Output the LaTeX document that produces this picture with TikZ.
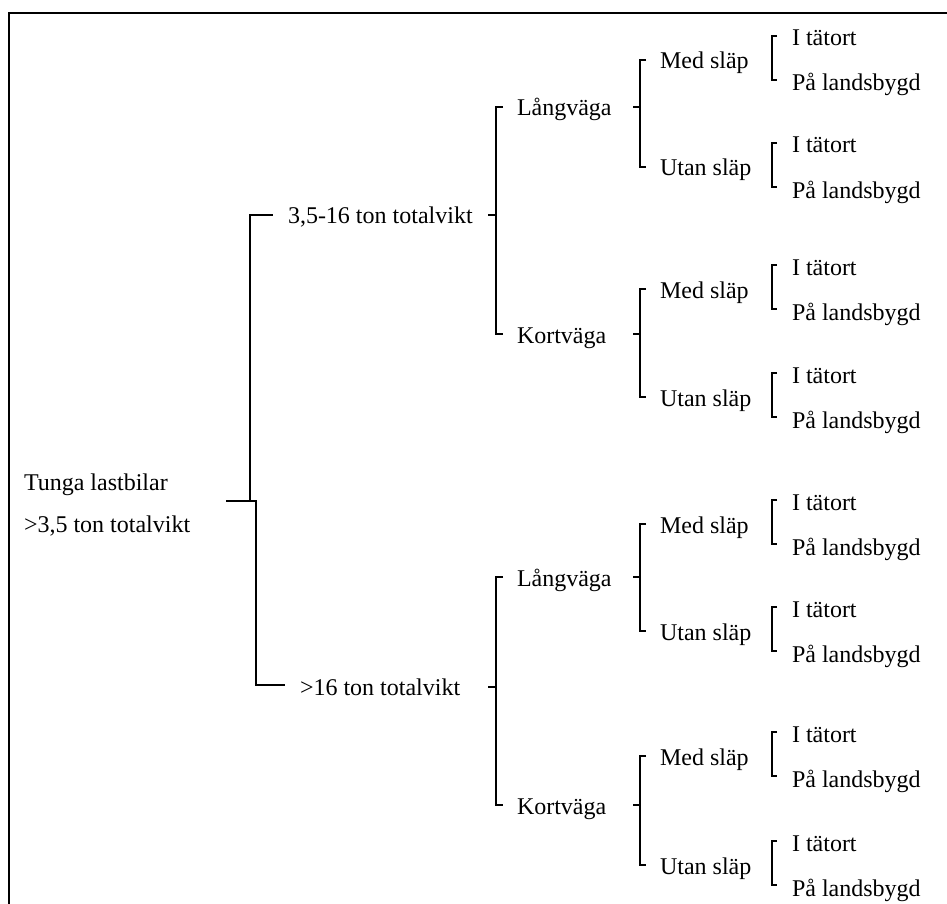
\documentclass[tikz,border=0pt]{standalone}
\usepackage{fontspec}
\setmainfont{Liberation Serif}
\usetikzlibrary{calc}
\tikzset{
  lbl/.style={anchor=base west, inner sep=0pt, outer sep=0pt, font=\fontsize{24}{28}\selectfont},
  conn/.style={line width=1.1pt, black},
  frame/.style={line width=2.3pt, black}
}
\newcommand\leafbr[2]{%
  \draw[conn] ($(#1.base west)+(-15,-10)$) -| ($(#2.base west)+(-20,-11)$) -- ++(5,0);}
\newcommand\midbr[3]{% parent, child1, child2
  \coordinate (#1-mid) at ($(#1.base west)+(0,-9)$);
  \coordinate (#1-vx) at ($(#2.base west)+(-20,0)$);
  \draw[conn] ($(#2.base west)+(-14,-9)$) -| ($(#3.base west)+(-20,-9)$) -- ++(6,0);
  \draw[conn] (#1-vx |- #1-mid) -- ++(-7,0);}
\begin{document}
\begin{tikzpicture}[x=1pt,y=-1pt]
\useasboundingbox (0,0) rectangle (947,904);
\draw[frame] (9,904) -- (9,13) -- (947,13);
% root
\node[lbl] (root1) at (24,490) {Tunga lastbilar};
\node[lbl] (root2) at (24,532) {>3,5 ton totalvikt};
% level 1
\node[lbl] (a) at (288,223) {3,5-16 ton totalvikt};
\node[lbl] (b) at (300,695) {>16 ton totalvikt};
% level 2
\node[lbl] (aL) at (517,116) {Långväga};
\node[lbl] (aK) at (517,343) {Kortväga};
\node[lbl] (bL) at (517,586) {Långväga};
\node[lbl] (bK) at (517,814) {Kortväga};
% level 3
\node[lbl] (aLm) at (660,69)  {Med släp};
\node[lbl] (aLu) at (660,176) {Utan släp};
\node[lbl] (aKm) at (660,298) {Med släp};
\node[lbl] (aKu) at (660,406) {Utan släp};
\node[lbl] (bLm) at (660,533) {Med släp};
\node[lbl] (bLu) at (660,640) {Utan släp};
\node[lbl] (bKm) at (660,765) {Med släp};
\node[lbl] (bKu) at (660,874) {Utan släp};
% level 4
\foreach \n/\y in {aLm/69,aLu/176,aKm/298,aKu/406,bLm/533,bLu/640,bKm/765,bKu/874}{
  \node[lbl] (\n-1) at (792,\y-23) {I tätort};
  \node[lbl] (\n-2) at (792,\y+22) {På landsbygd};
}
% root connectors
\coordinate (rj) at (226,501);
\coordinate (rj1) at (250,501);
\coordinate (rj2) at (256,501);
\draw[conn] (rj) -- (rj2) |- ($(b.base west)+(-15,-10)$);
\draw[conn] (rj1) |- ($(a.base west)+(-15,-8)$);
% level 1 -> 2
\coordinate (a-mid) at ($(a.base west)+(0,-8)$);
\coordinate (a-vx) at ($(aL.base west)+(-21,0)$);
\draw[conn] ($(aL.base west)+(-14,-9)$) -| ($(aK.base west)+(-21,-9)$) -- ++(7,0);
\draw[conn] (a-vx |- a-mid) -- ++(-8,0);
\coordinate (b-mid) at ($(b.base west)+(0,-8)$);
\coordinate (b-vx) at ($(bL.base west)+(-21,0)$);
\draw[conn] ($(bL.base west)+(-14,-9)$) -| ($(bK.base west)+(-21,-9)$) -- ++(7,0);
\draw[conn] (b-vx |- b-mid) -- ++(-8,0);
% level 2 -> 3
\midbr{aL}{aLm}{aLu}
\midbr{aK}{aKm}{aKu}
\midbr{bL}{bLm}{bLu}
\midbr{bK}{bKm}{bKu}
% level 3 -> 4
\foreach \n in {aLm,aLu,aKm,aKu,bLm,bLu,bKm,bKu}{
  \leafbr{\n-1}{\n-2}
}
\end{tikzpicture}
\end{document}
